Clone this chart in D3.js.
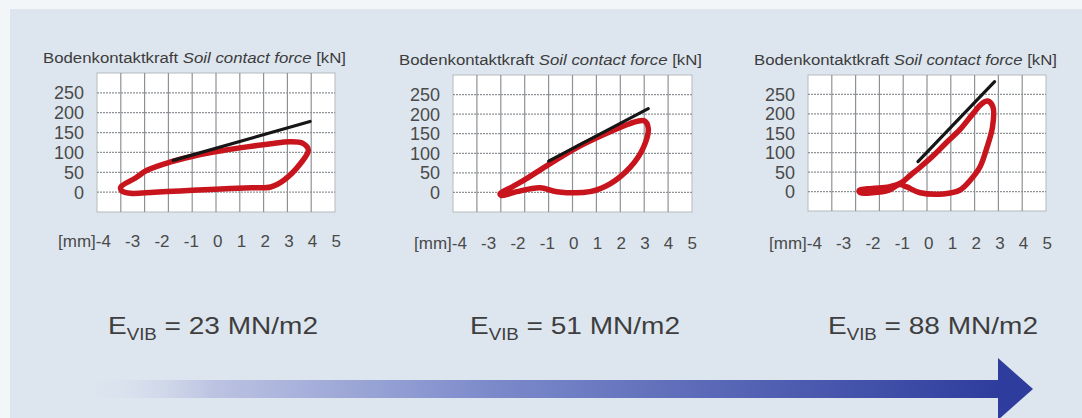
<!DOCTYPE html>
<html>
<head>
<meta charset="utf-8">
<script src="https://cdn.jsdelivr.net/npm/d3@7"></script>
<style>
  body { margin: 0; background: #fff; }
  svg { display: block; font-family: "Liberation Sans", Arial, sans-serif; }
</style>
</head>
<body>
<script>
// tick labels
const xTicks = [-4, -3, -2, -1, 0, 1, 2, 3, 4, 5];
const yTicks = [0, 50, 100, 150, 200, 250];

// E_VIB values per panel [MN/m2]
const evib = [23, 51, 88];

// hysteresis loops: [displacement mm, force kN]
const loop1 = [[-4.0, 13], [-3.4, 35], [-2.9, 55], [-1.9, 76], [-0.8, 93], [0.3, 105], [1.3, 114],
  [2.3, 122], [3.1, 127], [3.65, 123], [3.88, 106], [3.55, 72], [2.85, 30], [2.3, 13], [1.5, 11],
  [0.6, 9], [-0.5, 6], [-1.5, 3], [-2.6, 0], [-3.6, -3], [-3.97, 4]];
const loop2 = [[-3.03, -3], [-2.5, 15], [-2.06, 30], [-1.08, 68], [0.17, 114], [1.43, 151],
  [2.41, 176], [3.0, 183], [3.17, 164], [2.96, 114], [2.41, 64], [1.57, 22], [0.73, 2],
  [-0.66, 2], [-1.36, 12], [-2.33, 2], [-2.96, -8]];
const loop3 = [[-2.85, 3], [-2.3, 8], [-1.6, 12], [-1.1, 22], [-0.7, 42], [-0.3, 62], [0.26, 92],
  [0.8, 125], [1.39, 160], [1.9, 198], [2.3, 226], [2.55, 233], [2.77, 218], [2.75, 165],
  [2.5, 110], [2.23, 64], [1.8, 28], [1.39, 4], [0.69, -6], [-0.29, -3], [-0.85, 12],
  [-1.15, 18], [-1.6, 4], [-2.3, -3], [-2.8, -3]];

// stiffness (tangent) lines
const line1 = [[-1.8, 80], [3.95, 178]];
const line2 = [[-1.0, 80], [3.17, 214]];
const line3 = [[-0.38, 77], [2.84, 283]];

const W = 1082, H = 418;
const bg = "#dde6ef";

const panels = [
  { left: 97, top: 73, w: 238, h: 139, loop: loop1, line: line1, ev: evib[0], evX: 108 },
  { left: 453, top: 75, w: 239, h: 137, loop: loop2, line: line2, ev: evib[1], evX: 470 },
  { left: 808, top: 75, w: 238, h: 136, loop: loop3, line: line3, ev: evib[2], evX: 828 }
];

const svg = d3.select("body").append("svg")
  .attr("width", W)
  .attr("height", H);

const defs = svg.append("defs");
const grad = defs.append("linearGradient")
  .attr("id", "arrowGrad")
  .attr("gradientUnits", "userSpaceOnUse")
  .attr("x1", 75).attr("x2", 1000).attr("y1", 0).attr("y2", 0);
grad.append("stop").attr("offset", "0%").attr("stop-color", bg).attr("stop-opacity", 0);
grad.append("stop").attr("offset", "15%").attr("stop-color", "#bcc3e2");
grad.append("stop").attr("offset", "45%").attr("stop-color", "#7c8acb");
grad.append("stop").attr("offset", "100%").attr("stop-color", "#2e3d9d");

// background with light frame at top / left
svg.append("rect").attr("width", W).attr("height", H).attr("fill", "#f3f6f9");
svg.append("rect").attr("x", 10).attr("y", 9).attr("width", W - 10).attr("height", H - 9).attr("fill", bg);

panels.forEach(p => {
  const x = d3.scaleLinear().domain([-5, 5]).range([p.left, p.left + p.w]);
  const y = d3.scaleLinear().domain([-50, 300]).range([p.top + p.h, p.top]);
  const g = svg.append("g");

  // title
  const title = g.append("text")
    .attr("x", p.left - 54)
    .attr("y", p.top - 10)
    .attr("font-size", 14)
    .attr("fill", "#3c3c3c")
    .attr("textLength", 303)
    .attr("lengthAdjust", "spacingAndGlyphs");
  title.append("tspan").text("Bodenkontaktkraft ");
  title.append("tspan").attr("font-style", "italic").text("Soil contact force");
  title.append("tspan").text(" [kN]");

  // plot area
  g.append("rect")
    .attr("x", p.left).attr("y", p.top)
    .attr("width", p.w).attr("height", p.h)
    .attr("fill", "#fff")
    .attr("stroke", "#b5b9bd");

  // vertical grid (1 mm)
  g.selectAll(".vg").data(d3.range(-4, 5))
    .enter().append("line")
    .attr("x1", d => x(d)).attr("x2", d => x(d))
    .attr("y1", p.top).attr("y2", p.top + p.h)
    .attr("stroke", "#8e9296").attr("stroke-width", 1.2);

  // horizontal grid (50 kN)
  g.selectAll(".hg").data(d3.range(0, 300, 50))
    .enter().append("line")
    .attr("x1", p.left).attr("x2", p.left + p.w)
    .attr("y1", d => y(d)).attr("y2", d => y(d))
    .attr("stroke", "#8e9296").attr("stroke-width", 1.2)
    .attr("stroke-dasharray", "2,1");

  // y tick labels
  g.selectAll(".yl").data(yTicks)
    .enter().append("text")
    .attr("x", p.left - 13)
    .attr("y", d => y(d))
    .attr("dy", "0.36em")
    .attr("text-anchor", "end")
    .attr("font-size", 18)
    .attr("fill", "#4a4a4a")
    .text(d => d);

  // x label line
  g.append("text")
    .attr("x", p.left - 39)
    .attr("y", p.top + 174)
    .attr("font-size", 17)
    .attr("fill", "#4a4a4a")
    .attr("word-spacing", 9.5)
    .text("[mm]" + xTicks.join(" "));

  // loop
  const curve = d3.line()
    .x(d => x(d[0])).y(d => y(d[1]))
    .curve(d3.curveCatmullRomClosed.alpha(0.5));
  g.append("path")
    .attr("d", curve(p.loop))
    .attr("fill", "none")
    .attr("stroke", "#c8141c")
    .attr("stroke-width", 5.5)
    .attr("stroke-linejoin", "round");

  // stiffness line
  g.append("path")
    .attr("d", d3.line().x(d => x(d[0])).y(d => y(d[1]))(p.line))
    .attr("stroke", "#161616")
    .attr("stroke-width", 3.2)
    .attr("stroke-linecap", "round");

  // E_VIB label
  const ev = svg.append("text")
    .attr("x", p.evX)
    .attr("y", 334)
    .attr("font-size", 24)
    .attr("fill", "#3e3e3e")
    .attr("textLength", 210)
    .attr("lengthAdjust", "spacingAndGlyphs");
  ev.append("tspan").text("E");
  ev.append("tspan").attr("font-size", 16).attr("dy", 6).text("VIB");
  ev.append("tspan").attr("dy", -6).text(" = " + p.ev + " MN/m2");
});

// arrow
const arrowY = 389;
svg.append("rect")
  .attr("x", 75).attr("y", arrowY - 9)
  .attr("width", 925).attr("height", 18)
  .attr("fill", "url(#arrowGrad)");
svg.append("path")
  .attr("d", d3.line()([[998, arrowY - 31], [1033, arrowY], [998, arrowY + 31]]) + "Z")
  .attr("fill", "#2e3d9d");
</script>
</body>
</html>
